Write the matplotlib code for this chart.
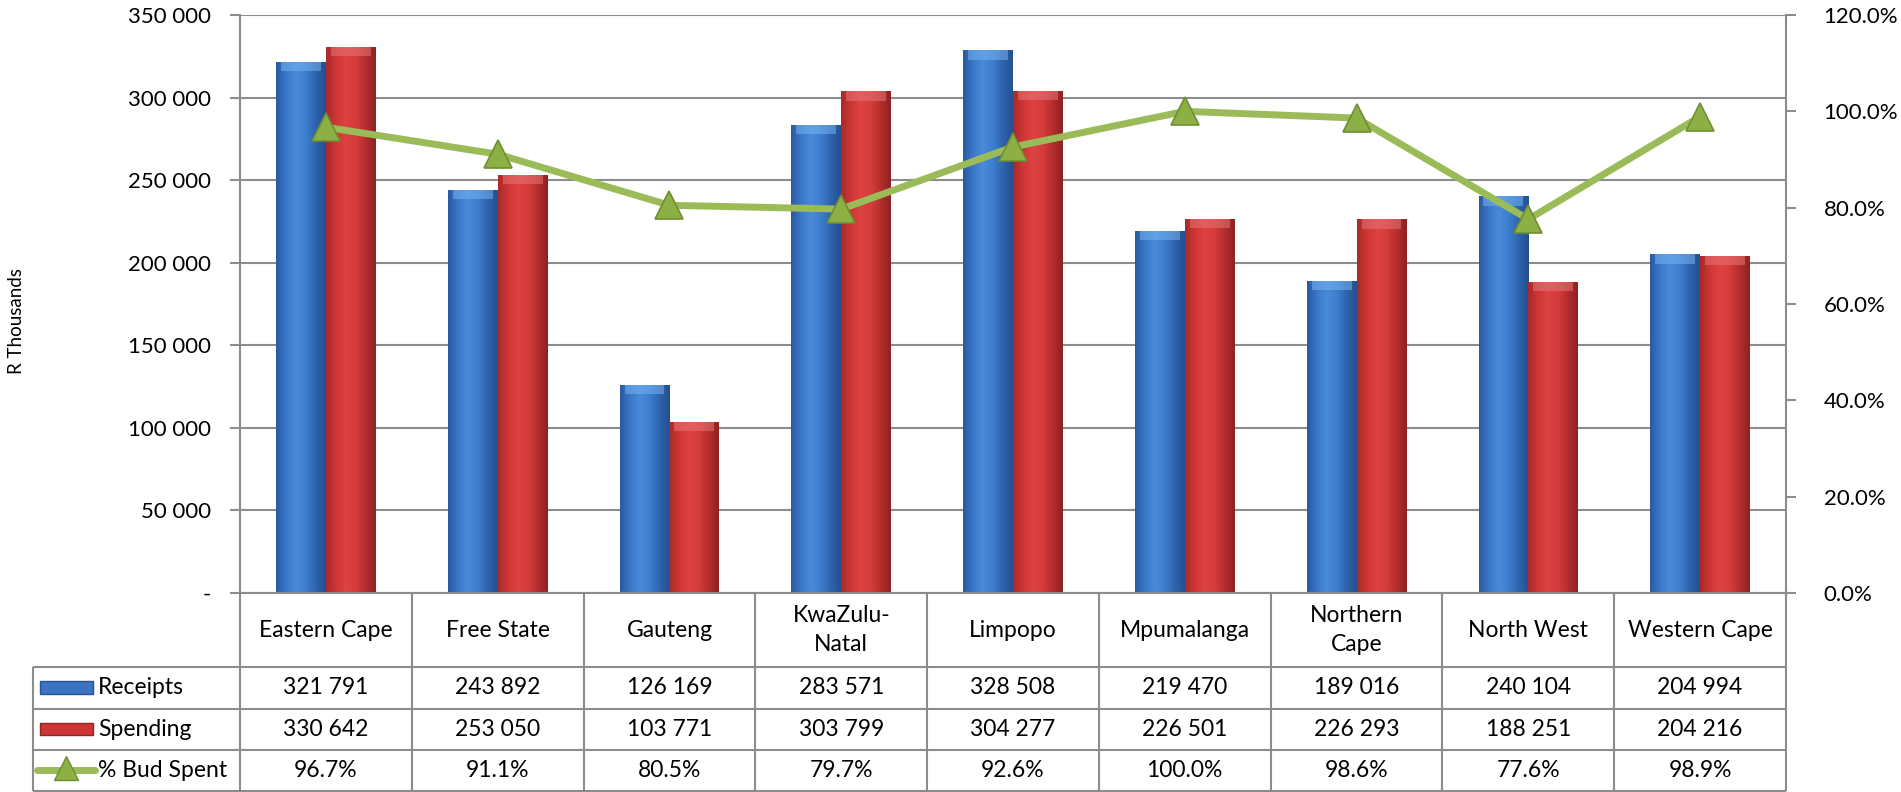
import numpy as np
import matplotlib
matplotlib.use("Agg")
import matplotlib.pyplot as plt
from matplotlib.colors import LinearSegmentedColormap
from matplotlib.patches import Rectangle
from matplotlib.lines import Line2D

provinces = ["Eastern Cape", "Free State", "Gauteng", "KwaZulu-\nNatal", "Limpopo",
             "Mpumalanga", "Northern\nCape", "North West", "Western Cape"]
receipts = [321791, 243892, 126169, 283571, 328508, 219470, 189016, 240104, 204994]
spending = [330642, 253050, 103771, 303799, 304277, 226501, 226293, 188251, 204216]
pct_spent = [96.7, 91.1, 80.5, 79.7, 92.6, 100.0, 98.6, 77.6, 98.9]

series_names = ["Receipts", "Spending", "% Bud Spent"]
left_ticks = [0, 50000, 100000, 150000, 200000, 250000, 300000, 350000]
right_ticks = [0, 20, 40, 60, 80, 100, 120]

plt.rcParams["font.family"] = ["Lato", "DejaVu Sans"]
FS = 16
FS_TAB = 16.5
GRID = "#8c8c8c"
GREEN = "#9bbb59"

W, H = 1901, 792
fig = plt.figure(figsize=(W / 100, H / 100), dpi=100)

x0, x1, ytop, ybot = 240, 1786, 15, 593
ax = fig.add_axes([x0 / W, 1 - ybot / H, (x1 - x0) / W, (ybot - ytop) / H])

blue_cm = LinearSegmentedColormap.from_list(
    "b", ["#2a5aa0", "#3a78c8", "#4a8ad8", "#3d7ecf", "#2f63ad", "#24508f"])
red_cm = LinearSegmentedColormap.from_list(
    "r", ["#a82a2a", "#d03636", "#de4242", "#d53c3c", "#b52e2e", "#8e2222"])
blue_top = "#7ab8f2"
red_top = "#ea7a7a"

x = np.arange(len(provinces))
bw = 0.29
grad = np.linspace(0, 1, 64).reshape(1, -1)


def shaded_bars(xs, vals, cmap, topcol):
    bars = ax.bar(xs, vals, width=bw, color=cmap(0.5), edgecolor="none", zorder=2)
    for b in bars:
        bx, by = b.get_x(), b.get_y()
        bwid, bh = b.get_width(), b.get_height()
        im = ax.imshow(grad, cmap=cmap, aspect="auto", zorder=2.1,
                       extent=[bx, bx + bwid, by, by + bh], interpolation="bicubic")
        im.set_clip_path(b)
        cap = 0.016 * 350000
        ax.add_patch(Rectangle((bx + bwid * 0.1, by + bh - cap), bwid * 0.8, cap,
                               facecolor=topcol, edgecolor="none", alpha=0.5, zorder=2.2))
    return bars


shaded_bars(x - 0.145, receipts, blue_cm, blue_top)
shaded_bars(x + 0.145, spending, red_cm, red_top)

ax.set_xlim(-0.5, len(provinces) - 0.5)
ax.set_ylim(0, 350000)
ax.set_yticks(left_ticks)
ax.set_yticklabels(["-" if v == 0 else f"{v:,}".replace(",", " ") for v in left_ticks],
                   fontsize=FS)
ax.set_xticks([])
ax.grid(axis="y", color=GRID, linewidth=1.5)
ax.set_axisbelow(True)
for s in ["top", "right"]:
    ax.spines[s].set_visible(False)
for s in ["left", "bottom"]:
    ax.spines[s].set_color(GRID)
    ax.spines[s].set_linewidth(1.5)
ax.tick_params(axis="y", length=7, width=1.5, color=GRID, pad=14)
ax.set_ylabel("R Thousands", fontsize=13.5, labelpad=0)
ax.yaxis.set_label_coords(-215 / (x1 - x0), 0.47)

ax2 = ax.twinx()
ax2.plot(x, pct_spent, color=GREEN, linewidth=5, marker="^", markersize=20,
         markerfacecolor="#8cb043", markeredgecolor="#6f8e34", markeredgewidth=1.2,
         zorder=5)
ax2.set_ylim(0, 120)
ax2.set_yticks(right_ticks)
ax2.set_yticklabels([f"{v:.1f}%" for v in right_ticks], fontsize=FS)
for s in ["top", "left", "bottom"]:
    ax2.spines[s].set_visible(False)
ax2.spines["right"].set_color(GRID)
ax2.spines["right"].set_linewidth(1.5)
ax2.tick_params(axis="y", length=7, width=1.5, color=GRID, pad=20)

# data table under the chart
tl, tb = 33, 791
ulen = (x1 - x0) / len(provinces)
tx0 = -0.5 - (x0 - tl) / ulen
tax = fig.add_axes([tl / W, 1 - tb / H, (x1 - tl) / W, (tb - ybot) / H])
tax.set_xlim(tx0, len(provinces) - 0.5)
tax.set_ylim(4.8, 0)
tax.axis("off")

lk = dict(color=GRID, linewidth=1.5, solid_capstyle="butt", clip_on=False)
for i in range(len(provinces) + 1):
    tax.plot([i - 0.5, i - 0.5], [0, 4.8], **lk)
tax.plot([tx0, tx0], [1.8, 4.8], **lk)
for yy in [1.8, 2.8, 3.8, 4.8]:
    tax.plot([tx0, len(provinces) - 0.5], [yy, yy], **lk)

rows = [
    [f"{v:,}".replace(",", " ") for v in receipts],
    [f"{v:,}".replace(",", " ") for v in spending],
    [f"{v:.1f}%" for v in pct_spent],
]
for i, name in enumerate(provinces):
    tax.text(i, 0.9, name, ha="center", va="center", fontsize=FS_TAB, linespacing=1.45)
    for r, vals in enumerate(rows):
        tax.text(i, 2.3 + r, vals[i], ha="center", va="center", fontsize=FS_TAB)

px = 1 / ulen
for r, name in enumerate(series_names):
    tax.text(tx0 + 65 * px, 2.3 + r, name, ha="left", va="center", fontsize=FS_TAB)
sw0, sw1 = tx0 + 7 * px, tx0 + 60 * px
tax.add_patch(Rectangle((sw0, 2.3 - 0.16), sw1 - sw0, 0.3, facecolor="#3b74c0",
                        edgecolor="#2a5490", linewidth=1))
tax.add_patch(Rectangle((sw0, 3.3 - 0.16), sw1 - sw0, 0.3, facecolor="#cc3535",
                        edgecolor="#922424", linewidth=1))
tax.add_line(Line2D([tx0 + 4 * px, tx0 + 62 * px], [4.3, 4.3], color=GREEN, linewidth=5,
                    solid_capstyle="round"))
tax.plot([tx0 + 33 * px], [4.25], marker="^", markersize=17, color="#8cb043",
         markeredgecolor="#6f8e34")

fig.savefig("out.png", dpi=100)
